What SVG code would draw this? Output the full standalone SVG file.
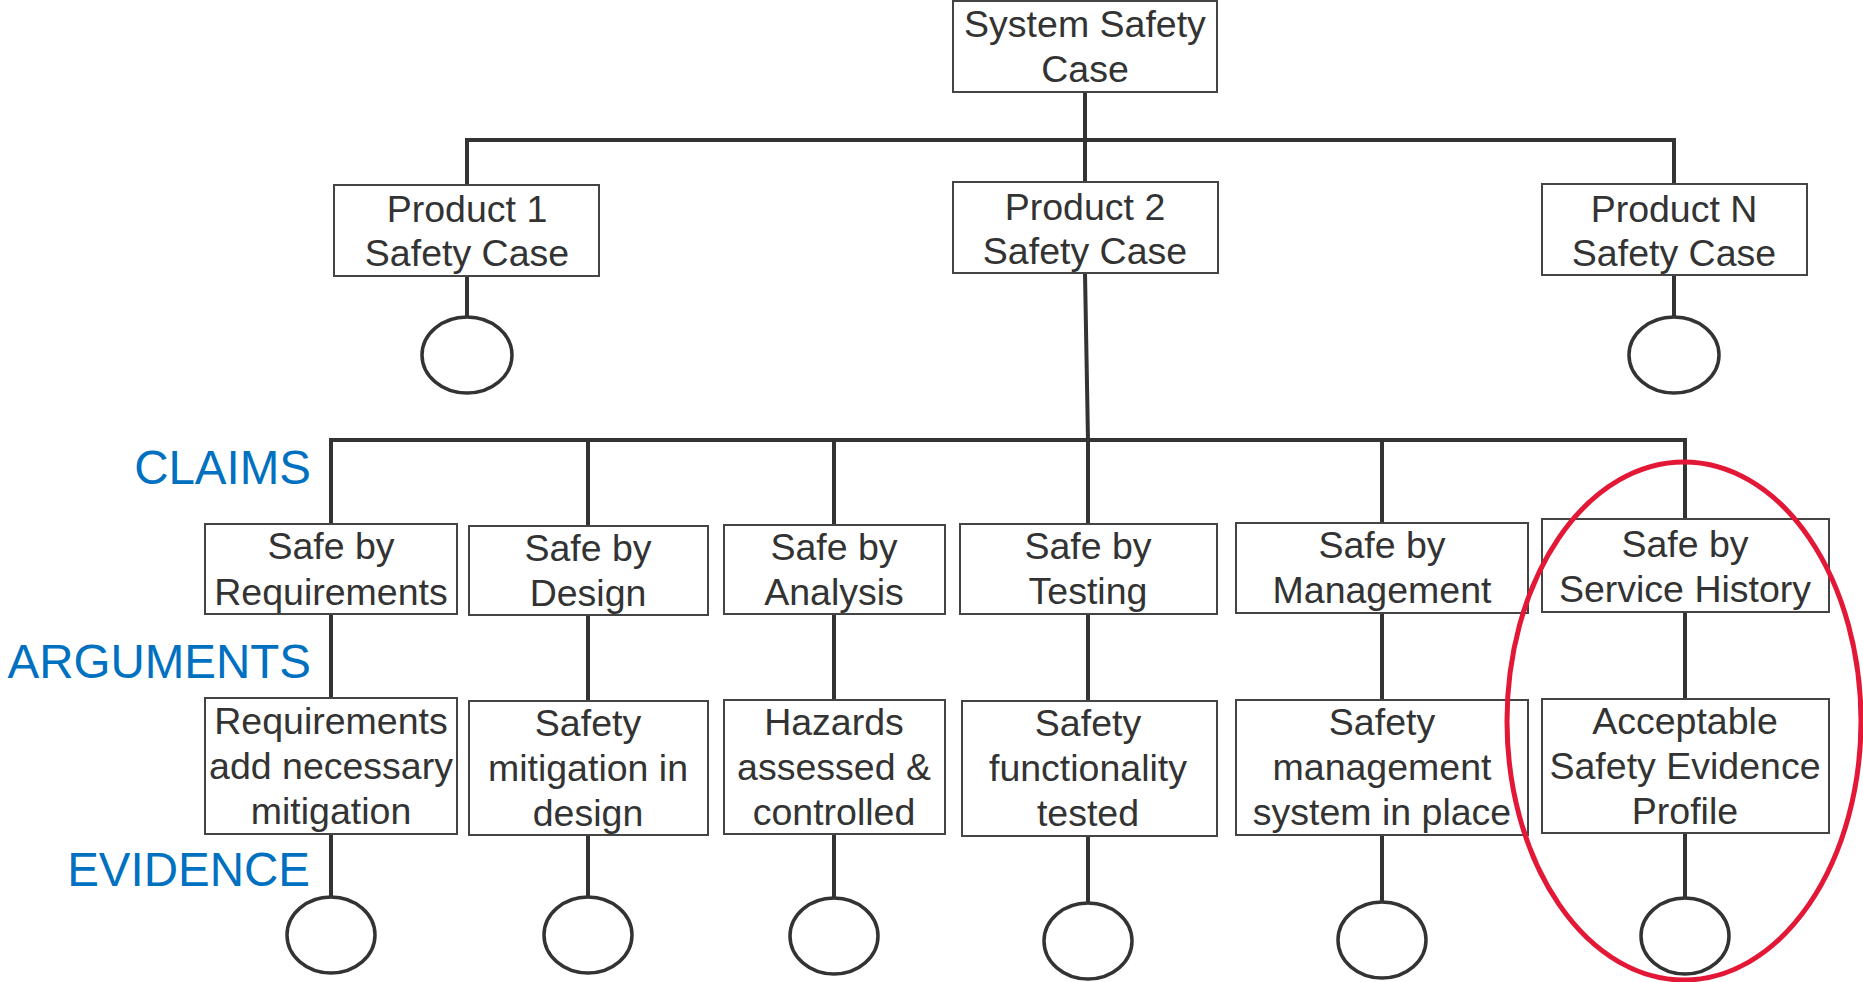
<svg xmlns="http://www.w3.org/2000/svg" width="1863" height="982" viewBox="0 0 1863 982">
<style>
.box{fill:#fff;stroke:#444;stroke-width:2}
.t{font-family:"Liberation Sans",Arial,sans-serif;font-size:37.5px;fill:#333;text-anchor:middle}
.lbl{font-family:"Liberation Sans",Arial,sans-serif;font-size:47.5px;fill:#0070C0;text-anchor:end}
.c{fill:none;stroke:#333;stroke-width:4;stroke-linecap:square}
.ev{fill:#fff;stroke:#333;stroke-width:3.5}
</style>
<rect width="1863" height="982" fill="#fff"/>
<g id="connectors" class="c">
<line x1="1085" y1="92" x2="1085" y2="140"/>
<line x1="467" y1="140" x2="1674" y2="140"/>
<line x1="467" y1="140" x2="467" y2="185"/>
<line x1="1085" y1="140" x2="1085" y2="182"/>
<line x1="1674" y1="140" x2="1674" y2="184"/>
<line x1="467" y1="276" x2="467" y2="317"/>
<line x1="1674" y1="275" x2="1674" y2="317"/>
<line x1="1085" y1="273" x2="1088" y2="440"/>
<line x1="331" y1="440" x2="1685" y2="440"/>
<line x1="331" y1="440" x2="331" y2="897"/>
<line x1="588" y1="440" x2="588" y2="897"/>
<line x1="834" y1="440" x2="834" y2="898"/>
<line x1="1088" y1="440" x2="1088" y2="903"/>
<line x1="1382" y1="440" x2="1382" y2="902"/>
<line x1="1685" y1="440" x2="1685" y2="898"/>
</g>
<g id="sys"><rect class="box" x="953" y="1" width="264" height="91"/><text class="t" x="1085" y="37">System Safety</text><text class="t" x="1085" y="82">Case</text></g>
<g id="p1"><rect class="box" x="334" y="185" width="265" height="91"/><text class="t" x="467" y="222">Product 1</text><text class="t" x="467" y="266">Safety Case</text></g>
<g id="p2"><rect class="box" x="953" y="182" width="265" height="91"/><text class="t" x="1085" y="220">Product 2</text><text class="t" x="1085" y="264">Safety Case</text></g>
<g id="pN"><rect class="box" x="1542" y="184" width="265" height="91"/><text class="t" x="1674" y="222">Product N</text><text class="t" x="1674" y="266">Safety Case</text></g>
<g id="p1e"><ellipse class="ev" cx="467" cy="355" rx="45" ry="38"/></g>
<g id="pNe"><ellipse class="ev" cx="1674" cy="355" rx="45" ry="38"/></g>
<g id="c1"><rect class="box" x="205" y="524" width="252" height="90"/><text class="t" x="331" y="559">Safe by</text><text class="t" x="331" y="605">Requirements</text></g>
<g id="c2"><rect class="box" x="469" y="526" width="239" height="89"/><text class="t" x="588" y="561">Safe by</text><text class="t" x="588" y="606">Design</text></g>
<g id="c3"><rect class="box" x="724" y="525" width="221" height="89"/><text class="t" x="834" y="560">Safe by</text><text class="t" x="834" y="605">Analysis</text></g>
<g id="c4"><rect class="box" x="960" y="524" width="257" height="90"/><text class="t" x="1088" y="559">Safe by</text><text class="t" x="1088" y="604">Testing</text></g>
<g id="c5"><rect class="box" x="1236" y="523" width="292" height="90"/><text class="t" x="1382" y="558">Safe by</text><text class="t" x="1382" y="603">Management</text></g>
<g id="c6"><rect class="box" x="1542" y="519" width="287" height="93"/><text class="t" x="1685" y="557">Safe by</text><text class="t" x="1685" y="602">Service History</text></g>
<g id="a1"><rect class="box" x="205" y="698" width="252" height="136"/><text class="t" x="331" y="734">Requirements</text><text class="t" x="331" y="779">add necessary</text><text class="t" x="331" y="824">mitigation</text></g>
<g id="a2"><rect class="box" x="469" y="701" width="239" height="134"/><text class="t" x="588" y="736">Safety</text><text class="t" x="588" y="781">mitigation in</text><text class="t" x="588" y="826">design</text></g>
<g id="a3"><rect class="box" x="724" y="700" width="221" height="134"/><text class="t" x="834" y="735">Hazards</text><text class="t" x="834" y="780">assessed &amp;</text><text class="t" x="834" y="825">controlled</text></g>
<g id="a4"><rect class="box" x="962" y="701" width="255" height="135"/><text class="t" x="1088" y="736">Safety</text><text class="t" x="1088" y="781">functionality</text><text class="t" x="1088" y="826">tested</text></g>
<g id="a5"><rect class="box" x="1236" y="700" width="292" height="135"/><text class="t" x="1382" y="735">Safety</text><text class="t" x="1382" y="780">management</text><text class="t" x="1382" y="825">system in place</text></g>
<g id="a6"><rect class="box" x="1542" y="699" width="287" height="134"/><text class="t" x="1685" y="734">Acceptable</text><text class="t" x="1685" y="779">Safety Evidence</text><text class="t" x="1685" y="824">Profile</text></g>
<g id="e1"><ellipse class="ev" cx="331" cy="935" rx="44" ry="38"/></g>
<g id="e2"><ellipse class="ev" cx="588" cy="935" rx="44" ry="38"/></g>
<g id="e3"><ellipse class="ev" cx="834" cy="936" rx="44" ry="38"/></g>
<g id="e4"><ellipse class="ev" cx="1088" cy="941" rx="44" ry="38"/></g>
<g id="e5"><ellipse class="ev" cx="1382" cy="940" rx="44" ry="38"/></g>
<g id="e6"><ellipse class="ev" cx="1685" cy="936" rx="44" ry="38"/></g>
<g id="labels">
<text class="lbl" x="311" y="484">CLAIMS</text>
<text class="lbl" x="311" y="678">ARGUMENTS</text>
<text class="lbl" x="310" y="886">EVIDENCE</text>
</g>
<g id="highlight"><ellipse cx="1684" cy="721" rx="177" ry="259" fill="none" stroke="#E31837" stroke-width="5"/></g>
</svg>
